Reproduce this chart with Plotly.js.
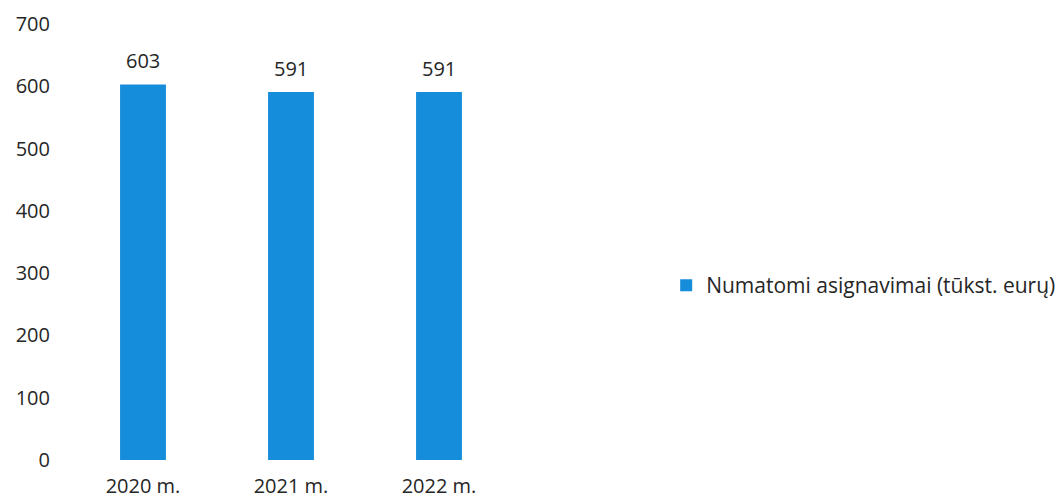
<!DOCTYPE html>
<html>
<head>
<meta charset="utf-8">
<script src="https://cdn.plot.ly/plotly-3.0.1.min.js"></script>
<style>html,body{margin:0;padding:0;background:#fff;}#chart{width:1058px;height:502px;}</style>
</head>
<body>
<div id="chart"></div>
<script>
const categories = ["2020 m.", "2021 m.", "2022 m."];
const values = [603, 591, 591];
const valueLabels = ["603", "591", "591"];
const seriesName = "Numatomi asignavimai (tūkst. eurų)";
const yTicks = [0, 100, 200, 300, 400, 500, 600, 700];

const fontFam = "Open Sans, Noto Sans, sans-serif";
const txtColor = "#262626";

const trace = {
  type: "bar",
  x: categories,
  y: values,
  name: seriesName,
  marker: {color: "#168dda"},
  width: 0.31,
  showlegend: true,
  hoverinfo: "none"
};

const annotations = categories.map((c, i) => ({
  x: c, y: values[i], text: valueLabels[i], showarrow: false,
  yanchor: "bottom", yshift: 8,
  font: {family: fontFam, size: 20, color: txtColor}
}));

const layout = {
  width: 1058, height: 502,
  margin: {l: 69, r: 545, t: 24, b: 42, autoexpand: false},
  paper_bgcolor: "#fff", plot_bgcolor: "#fff",
  xaxis: {
    showline: false, showgrid: false, zeroline: false, ticks: "",
    tickfont: {family: fontFam, size: 20, color: txtColor},
    ticklabelstandoff: 12
  },
  yaxis: {
    range: [0, 700], tickvals: yTicks,
    showline: false, showgrid: false, zeroline: false, ticks: "",
    tickfont: {family: fontFam, size: 20, color: txtColor},
    ticklabelstandoff: 18
  },
  showlegend: true,
  legend: {
    x: 1.345, xanchor: "left", y: 0.40, yanchor: "middle",
    font: {family: fontFam, size: 21, color: txtColor},
    bgcolor: "rgba(0,0,0,0)"
  },
  annotations: annotations
};

Plotly.newPlot("chart", [trace], layout, {staticPlot: true, displayModeBar: false});
</script>
</body>
</html>
